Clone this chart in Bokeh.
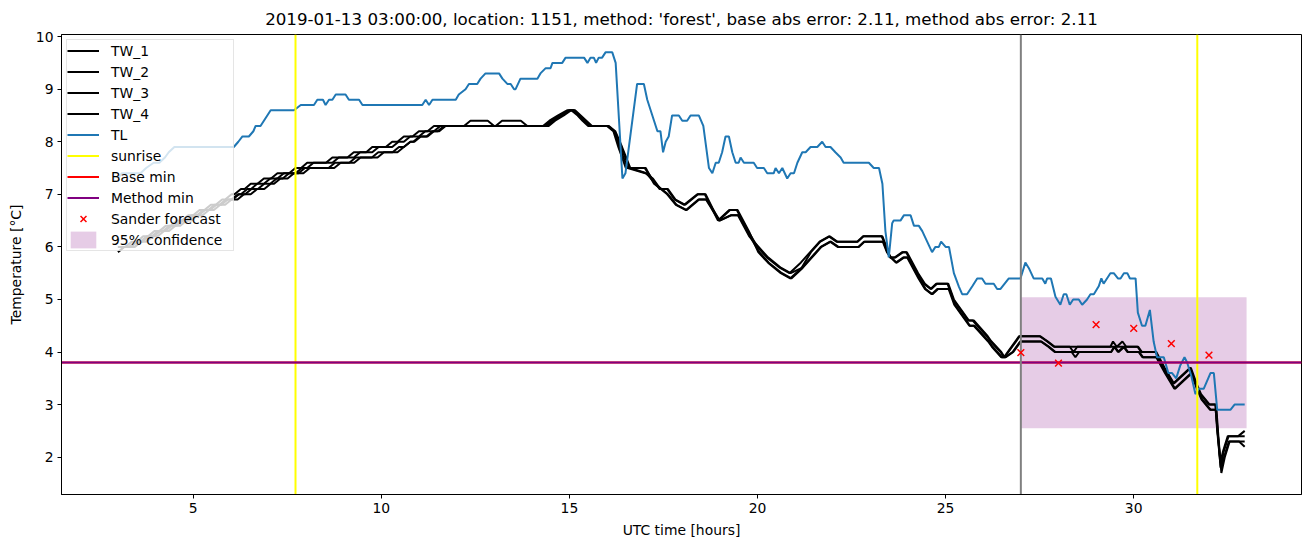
from bokeh.plotting import figure
from bokeh.models import Legend, LegendItem, Range1d, FixedTicker
from bokeh.embed import file_html
from bokeh.resources import INLINE

# ---------------- data ----------------
run_time = "2019-01-13 03:00:00"
location = 1151
method = "forest"
base_abs_error = 2.11
method_abs_error = 2.11

tw1_hours = [3.00, 3.20, 3.37, 3.50, 3.67, 3.80, 3.97, 4.10, 4.27, 4.40,
             4.57, 4.70, 4.87, 5.00, 5.17, 5.30, 5.47, 5.60, 5.77, 5.85,
             6.02, 6.10, 6.27, 6.37, 6.53, 6.71, 6.88, 7.07, 7.24, 7.55,
             7.72, 7.87, 8.03, 8.53, 8.70, 9.10, 9.27, 9.60, 9.76, 10.12,
             10.29, 10.43, 10.60, 10.83, 11.00, 11.23, 11.40, 12.20, 12.37, 12.83,
             13.00, 13.04, 13.21, 13.71, 13.88, 14.30, 14.47, 14.70, 14.95, 15.05,
             15.22, 15.35, 15.50, 16.00, 16.17, 16.30, 16.50, 17.00, 17.20, 17.40,
             17.60, 17.80, 18.05, 18.40, 18.60, 18.95, 19.25, 19.45, 19.75, 20.00,
             20.25, 20.60, 20.85, 21.15, 21.40, 21.65, 21.90, 22.10, 22.65, 22.80,
             23.30, 23.42, 23.52, 23.65, 23.85, 23.95, 24.25, 24.42, 24.60, 24.75,
             25.05, 25.20, 25.60, 25.72, 26.10, 26.20, 26.46, 26.55, 26.75, 26.95,
             27.50, 27.70, 27.88, 28.30, 28.40, 28.50, 29.38, 29.45, 29.55, 29.70,
             29.80, 30.10, 30.20, 30.58, 30.80, 31.05, 31.20, 31.35, 31.50, 31.65,
             31.77, 32.00, 32.17, 32.22, 32.30, 32.37, 32.50, 32.78, 32.95]
tw1_temps = [6.0, 6.0, 6.1, 6.1, 6.2, 6.2, 6.3, 6.3, 6.4, 6.4,
             6.5, 6.5, 6.6, 6.6, 6.7, 6.7, 6.8, 6.8, 6.9, 6.9,
             7.0, 7.0, 7.1, 7.1, 7.2, 7.2, 7.3, 7.3, 7.4, 7.4,
             7.5, 7.5, 7.6, 7.6, 7.7, 7.7, 7.8, 7.8, 7.9, 7.9,
             8.0, 8.0, 8.1, 8.1, 8.2, 8.2, 8.3, 8.3, 8.4, 8.4,
             8.3, 8.3, 8.4, 8.4, 8.3, 8.3, 8.4, 8.5, 8.6, 8.6,
             8.5, 8.4, 8.3, 8.3, 8.2, 7.9, 7.5, 7.5, 7.3, 7.1,
             7.1, 6.9, 6.8, 7.0, 7.0, 6.5, 6.7, 6.7, 6.3, 6.0,
             5.8, 5.6, 5.5, 5.7, 5.9, 6.1, 6.2, 6.1, 6.1, 6.2,
             6.2, 6.0, 5.8, 5.8, 5.9, 5.9, 5.5, 5.3, 5.2, 5.3,
             5.3, 5.0, 4.6, 4.6, 4.3, 4.2, 4.0, 3.9, 4.1, 4.3,
             4.3, 4.2, 4.1, 4.1, 4.0, 4.1, 4.1, 4.2, 4.1, 4.2,
             4.1, 4.1, 4.0, 4.0, 3.7, 3.4, 3.5, 3.6, 3.7, 3.4,
             3.2, 3.0, 3.0, 2.5, 1.9, 2.1, 2.4, 2.4, 2.5]

tw2_hours = [3.00, 3.35, 3.52, 3.65, 3.82, 3.95, 4.12, 4.25, 4.42, 4.55,
             4.72, 4.85, 5.02, 5.15, 5.32, 5.45, 5.62, 5.75, 5.92, 6.02,
             6.19, 6.27, 6.44, 6.54, 6.70, 6.88, 7.05, 7.24, 7.41, 7.72,
             7.89, 8.03, 8.20, 8.70, 8.87, 9.27, 9.44, 9.76, 9.93, 10.29,
             10.46, 10.60, 10.77, 11.00, 11.17, 11.40, 11.57, 14.35, 14.52, 14.75,
             15.00, 15.10, 15.25, 15.40, 15.55, 16.02, 16.19, 16.33, 16.55, 17.02,
             17.22, 17.42, 17.62, 17.82, 18.08, 18.42, 18.62, 18.97, 19.27, 19.47,
             19.77, 20.02, 20.28, 20.62, 20.87, 21.17, 21.42, 21.67, 21.92, 22.12,
             22.67, 22.82, 23.32, 23.43, 23.53, 23.67, 23.87, 23.97, 24.27, 24.45,
             24.62, 24.77, 25.07, 25.22, 25.62, 25.75, 26.12, 26.22, 26.48, 26.57,
             26.77, 26.97, 27.52, 27.72, 27.90, 28.32, 29.40, 30.12, 30.22, 30.60,
             30.82, 31.07, 31.22, 31.37, 31.52, 31.67, 31.79, 32.02, 32.18, 32.23,
             32.31, 32.39, 32.52, 32.80, 32.95]
tw2_temps = [6.0, 6.0, 6.1, 6.1, 6.2, 6.2, 6.3, 6.3, 6.4, 6.4,
             6.5, 6.5, 6.6, 6.6, 6.7, 6.7, 6.8, 6.8, 6.9, 6.9,
             7.0, 7.0, 7.1, 7.1, 7.2, 7.2, 7.3, 7.3, 7.4, 7.4,
             7.5, 7.5, 7.6, 7.6, 7.7, 7.7, 7.8, 7.8, 7.9, 7.9,
             8.0, 8.0, 8.1, 8.1, 8.2, 8.2, 8.3, 8.3, 8.4, 8.5,
             8.6, 8.6, 8.5, 8.4, 8.3, 8.3, 8.2, 7.9, 7.5, 7.4,
             7.3, 7.1, 7.1, 6.9, 6.8, 7.0, 7.0, 6.5, 6.7, 6.7,
             6.3, 5.9, 5.7, 5.5, 5.4, 5.6, 5.9, 6.1, 6.2, 6.1,
             6.1, 6.2, 6.2, 6.0, 5.8, 5.8, 5.9, 5.9, 5.5, 5.3,
             5.2, 5.3, 5.3, 5.0, 4.6, 4.6, 4.3, 4.2, 4.0, 3.9,
             4.1, 4.3, 4.3, 4.2, 4.1, 4.1, 4.1, 4.1, 4.0, 4.0,
             3.7, 3.4, 3.5, 3.6, 3.7, 3.4, 3.2, 3.0, 3.0, 2.5,
             1.8, 2.1, 2.4, 2.4, 2.4]

tw3_hours = [3.00, 3.30, 3.47, 3.60, 3.77, 3.90, 4.07, 4.20, 4.37, 4.50,
             4.67, 4.80, 4.97, 5.10, 5.27, 5.40, 5.57, 5.70, 5.87, 6.05,
             6.22, 6.38, 6.55, 6.72, 6.89, 7.05, 7.22, 7.38, 7.55, 7.80,
             7.97, 8.60, 8.77, 9.15, 9.32, 9.75, 9.92, 10.30, 10.47, 10.60,
             10.77, 10.85, 11.02, 11.20, 11.37, 11.50, 11.67, 14.40, 14.57, 14.80,
             15.02, 15.12, 15.27, 15.42, 15.57, 16.03, 16.20, 16.37, 16.60, 17.03,
             17.25, 17.43, 17.60, 17.83, 18.10, 18.43, 18.63, 18.98, 19.28, 19.48,
             19.78, 20.03, 20.28, 20.63, 20.88, 21.18, 21.43, 21.68, 21.93, 22.13,
             22.68, 22.83, 23.33, 23.44, 23.54, 23.68, 23.88, 23.98, 24.28, 24.45,
             24.63, 24.78, 25.08, 25.23, 25.63, 25.75, 26.13, 26.23, 26.48, 26.58,
             26.78, 26.98, 27.53, 27.73, 27.90, 29.40, 29.48, 29.58, 29.73, 29.83,
             30.13, 30.23, 30.60, 30.83, 31.08, 31.23, 31.38, 31.53, 31.68, 31.80,
             32.03, 32.18, 32.24, 32.32, 32.40, 32.53, 32.80, 32.95]
tw3_temps = [6.0, 6.0, 6.1, 6.1, 6.2, 6.2, 6.3, 6.3, 6.4, 6.4,
             6.5, 6.5, 6.6, 6.6, 6.7, 6.7, 6.8, 6.8, 6.9, 6.9,
             7.0, 7.0, 7.1, 7.1, 7.2, 7.2, 7.3, 7.3, 7.4, 7.4,
             7.5, 7.5, 7.6, 7.6, 7.7, 7.7, 7.8, 7.8, 7.9, 7.9,
             8.0, 8.0, 8.1, 8.1, 8.2, 8.2, 8.3, 8.3, 8.4, 8.5,
             8.6, 8.6, 8.5, 8.4, 8.3, 8.3, 8.2, 7.9, 7.5, 7.5,
             7.2, 7.1, 7.0, 6.8, 6.7, 6.9, 6.9, 6.5, 6.6, 6.6,
             6.2, 6.0, 5.8, 5.6, 5.5, 5.6, 5.8, 6.0, 6.1, 6.0,
             6.0, 6.1, 6.1, 5.9, 5.8, 5.7, 5.8, 5.8, 5.4, 5.2,
             5.1, 5.2, 5.2, 4.9, 4.5, 4.5, 4.2, 4.1, 3.9, 3.9,
             4.0, 4.2, 4.2, 4.1, 4.0, 4.0, 4.1, 4.0, 4.1, 4.0,
             4.0, 3.9, 3.9, 3.6, 3.3, 3.4, 3.5, 3.6, 3.3, 3.1,
             2.9, 2.9, 2.4, 1.8, 2.0, 2.3, 2.3, 2.3]

tw4_hours = [3.00, 3.17, 3.45, 3.62, 3.75, 3.92, 4.05, 4.22, 4.35, 4.52,
             4.65, 4.82, 4.95, 5.12, 5.25, 5.42, 5.55, 5.72, 5.85, 6.02,
             6.18, 6.35, 6.53, 6.70, 6.89, 7.06, 7.15, 7.32, 7.51, 7.68,
             7.93, 8.10, 8.75, 8.92, 9.28, 9.45, 9.90, 10.07, 10.43, 10.60,
             10.78, 10.88, 11.05, 11.23, 11.40, 11.54, 11.71, 14.45, 14.62, 14.85,
             15.05, 15.15, 15.30, 15.45, 15.60, 16.05, 16.22, 16.40, 16.62, 17.05,
             17.28, 17.45, 17.62, 17.85, 18.12, 18.45, 18.65, 19.00, 19.30, 19.50,
             19.80, 20.05, 20.30, 20.65, 20.90, 21.20, 21.45, 21.70, 21.95, 22.15,
             22.70, 22.85, 23.35, 23.45, 23.55, 23.70, 23.90, 24.00, 24.30, 24.47,
             24.65, 24.80, 25.10, 25.25, 25.65, 25.77, 26.15, 26.25, 26.50, 26.60,
             26.80, 27.00, 27.55, 27.75, 27.92, 28.35, 28.45, 28.55, 29.40, 29.50,
             29.60, 29.75, 29.85, 30.15, 30.25, 30.62, 30.85, 31.10, 31.25, 31.40,
             31.55, 31.70, 31.82, 32.05, 32.20, 32.25, 32.33, 32.42, 32.55, 32.80,
             32.95]
tw4_temps = [5.9, 6.0, 6.0, 6.1, 6.1, 6.2, 6.2, 6.3, 6.3, 6.4,
             6.4, 6.5, 6.5, 6.6, 6.6, 6.7, 6.7, 6.8, 6.8, 6.9,
             6.9, 7.0, 7.0, 7.1, 7.1, 7.2, 7.2, 7.3, 7.3, 7.4,
             7.4, 7.5, 7.5, 7.6, 7.6, 7.7, 7.7, 7.8, 7.8, 7.9,
             8.0, 8.0, 8.1, 8.1, 8.2, 8.2, 8.3, 8.3, 8.4, 8.5,
             8.6, 8.6, 8.5, 8.4, 8.3, 8.3, 8.2, 7.9, 7.5, 7.4,
             7.2, 7.1, 7.0, 6.8, 6.7, 6.9, 6.9, 6.5, 6.6, 6.6,
             6.2, 5.9, 5.7, 5.5, 5.4, 5.6, 5.8, 6.0, 6.1, 6.0,
             6.0, 6.1, 6.1, 5.9, 5.8, 5.7, 5.8, 5.8, 5.4, 5.2,
             5.1, 5.2, 5.2, 4.9, 4.5, 4.5, 4.2, 4.1, 3.9, 3.9,
             4.0, 4.2, 4.2, 4.1, 4.0, 4.0, 3.9, 4.0, 4.0, 4.1,
             4.0, 4.1, 4.0, 4.0, 3.9, 3.9, 3.6, 3.3, 3.4, 3.5,
             3.6, 3.3, 3.1, 2.9, 2.9, 2.4, 1.7, 2.0, 2.3, 2.3,
             2.2]

tl_hours = [3.00, 3.10, 3.60, 3.75, 3.95, 4.10, 4.25, 4.35, 4.50, 6.08,
            6.20, 6.31, 6.48, 6.60, 6.66, 6.79, 6.88, 6.97, 7.06, 7.68,
            7.86, 8.21, 8.30, 8.45, 8.52, 8.61, 8.70, 8.79, 9.05, 9.14,
            9.41, 9.50, 11.09, 11.18, 11.27, 11.36, 11.98, 12.06, 12.24, 12.33,
            12.55, 12.64, 12.77, 13.13, 13.22, 13.35, 13.44, 13.53, 13.57, 13.70,
            14.15, 14.23, 14.37, 14.50, 14.55, 14.81, 14.90, 15.39, 15.48, 15.56,
            15.65, 15.71, 15.78, 15.87, 15.96, 16.14, 16.23, 16.41, 16.49, 16.80,
            16.98, 17.07, 17.25, 17.34, 17.42, 17.49, 17.56, 17.64, 17.73, 17.91,
            18.00, 18.13, 18.22, 18.44, 18.56, 18.71, 18.80, 18.89, 18.97, 19.06,
            19.15, 19.24, 19.33, 19.42, 19.50, 19.55, 19.64, 19.90, 19.99, 20.17,
            20.26, 20.43, 20.48, 20.57, 20.66, 20.79, 20.88, 20.97, 21.06, 21.19,
            21.28, 21.41, 21.59, 21.72, 21.81, 21.94, 22.07, 22.21, 22.29, 22.96,
            23.09, 23.23, 23.32, 23.40, 23.49, 23.58, 23.62, 23.80, 23.89, 24.07,
            24.16, 24.29, 24.38, 24.51, 24.64, 24.73, 24.82, 24.88, 25.00, 25.09,
            25.22, 25.35, 25.44, 25.57, 25.71, 25.84, 25.97, 26.06, 26.28, 26.37,
            26.46, 26.57, 26.68, 26.99, 27.12, 27.21, 27.34, 27.57, 27.65, 27.70,
            27.80, 27.92, 28.05, 28.14, 28.21, 28.30, 28.39, 28.54, 28.63, 28.76,
            28.85, 28.94, 29.07, 29.14, 29.20, 29.29, 29.38, 29.47, 29.58, 29.65,
            29.74, 29.83, 29.90, 30.05, 30.11, 30.22, 30.31, 30.43, 30.53, 30.62,
            30.80, 30.92, 31.02, 31.13, 31.24, 31.35, 31.42, 31.53, 31.64, 31.73,
            31.86, 32.04, 32.13, 32.22, 32.57, 32.68, 32.95]
tl_temps = [7.3, 7.4, 7.4, 7.5, 7.6, 7.6, 7.7, 7.8, 7.9, 7.9,
            8.0, 8.1, 8.1, 8.2, 8.3, 8.3, 8.4, 8.5, 8.6, 8.6,
            8.7, 8.7, 8.8, 8.8, 8.7, 8.8, 8.8, 8.9, 8.9, 8.8,
            8.8, 8.7, 8.7, 8.8, 8.7, 8.8, 8.8, 8.9, 9.0, 9.1,
            9.1, 9.2, 9.3, 9.3, 9.2, 9.1, 9.1, 9.0, 9.0, 9.2,
            9.2, 9.3, 9.4, 9.4, 9.5, 9.5, 9.6, 9.6, 9.5, 9.6,
            9.6, 9.5, 9.6, 9.6, 9.7, 9.7, 9.5, 7.3, 7.4, 9.1,
            9.1, 8.8, 8.4, 8.2, 8.2, 7.8, 8.0, 8.1, 8.5, 8.5,
            8.4, 8.4, 8.5, 8.5, 8.3, 7.5, 7.4, 7.6, 7.6, 7.8,
            8.1, 8.1, 7.8, 7.6, 7.6, 7.7, 7.6, 7.6, 7.5, 7.5,
            7.4, 7.4, 7.5, 7.4, 7.5, 7.3, 7.4, 7.4, 7.6, 7.8,
            7.8, 7.9, 7.9, 8.0, 7.9, 7.9, 7.8, 7.7, 7.6, 7.6,
            7.5, 7.5, 7.2, 6.3, 5.8, 6.45, 6.5, 6.5, 6.6, 6.6,
            6.4, 6.4, 6.3, 6.1, 5.9, 6.0, 6.0, 6.1, 6.0, 6.0,
            5.5, 5.25, 5.1, 5.1, 5.25, 5.4, 5.4, 5.3, 5.3, 5.2,
            5.2, 5.3, 5.4, 5.4, 5.7, 5.6, 5.4, 5.4, 5.3, 5.4,
            5.4, 5.05, 4.9, 5.1, 5.1, 4.9, 5.0, 5.0, 4.9, 5.0,
            5.1, 5.1, 5.25, 5.4, 5.3, 5.4, 5.5, 5.5, 5.4, 5.4,
            5.5, 5.5, 5.4, 5.4, 4.75, 4.5, 4.5, 4.8, 4.2, 3.9,
            3.9, 3.6, 3.6, 3.5, 3.75, 3.9, 3.8, 3.55, 3.2, 3.3,
            3.3, 3.6, 3.6, 2.9, 2.9, 3.0, 3.0]

sunrise_hours = [7.72, 31.69]
forecast_start_hour = [27.0]
base_min = [3.80]
method_min = [3.80]
sander_hours = [27, 28, 29, 30, 31, 32]
sander_temps = [3.99, 3.79, 4.52, 4.45, 4.16, 3.94]
conf_hours = [27.0, 33.0]
conf_bounds = [2.55, 5.04]
x_ticks = [5, 10, 15, 20, 25, 30]
y_ticks = [2, 3, 4, 5, 6, 7, 8, 9, 10]

tw_series = [("TW_1", tw1_hours, tw1_temps), ("TW_2", tw2_hours, tw2_temps),
             ("TW_3", tw3_hours, tw3_temps), ("TW_4", tw4_hours, tw4_temps)]
for name, h, t in tw_series:
    assert len(h) == len(t), (name, len(h), len(t))
assert len(tl_hours) == len(tl_temps)

# ---------------- figure ----------------
FONT = "DejaVu Sans"
X_START, X_END = 1.5, 34.46
Y_START, Y_END = 1.29, 10.04
title_text = (f"{run_time}, location: {location}, method: '{method}', "
              f"base abs error: {base_abs_error:.2f}, method abs error: {method_abs_error:.2f}")

p = figure(width=1310, height=547, output_backend="svg", toolbar_location=None,
           x_range=Range1d(X_START, X_END), y_range=Range1d(Y_START, Y_END),
           min_border_left=61, min_border_right=9, min_border_top=34, min_border_bottom=53,
           title=title_text)
p.background_fill_color = "white"
p.border_fill_color = "white"
p.outline_line_color = "black"
p.outline_line_width = 1
p.outline_line_alpha = 1.0
p.xgrid.visible = False
p.ygrid.visible = False

p.title.align = "center"
p.title.text_font = FONT
p.title.text_font_size = "16.7px"
p.title.text_font_style = "normal"
p.title.text_color = "black"
p.title.standoff = 12

p.xaxis.ticker = FixedTicker(ticks=x_ticks)
p.yaxis.ticker = FixedTicker(ticks=y_ticks)
p.xaxis.axis_label = "UTC time [hours]"
p.yaxis.axis_label = "Temperature [°C]"
for ax in (p.xaxis[0], p.yaxis[0]):
    ax.major_label_text_font = FONT
    ax.major_label_text_font_size = "13.9px"
    ax.major_label_text_color = "black"
    ax.axis_label_text_font = FONT
    ax.axis_label_text_font_size = "13.9px"
    ax.axis_label_text_font_style = "normal"
    ax.axis_label_text_color = "black"
    ax.major_tick_in = 0
    ax.major_tick_out = 4
    ax.minor_tick_in = 0
    ax.minor_tick_out = 0
    ax.major_tick_line_color = "black"
    ax.axis_line_color = "black"
    ax.major_label_standoff = 4
p.xaxis.axis_label_standoff = 6
p.yaxis.axis_label_standoff = 9

# confidence region (underneath)
r_conf = p.quad(left=[conf_hours[0]], right=[conf_hours[1]],
                bottom=[conf_bounds[0]], top=[conf_bounds[1]],
                fill_color="purple", fill_alpha=0.2, line_color=None, level="underlay")

# water temperature and air temperature
tw_renderers = []
for name, h, t in tw_series:
    tw_renderers.append(p.line(h, t, line_color="black", line_width=2))
r_tl = p.line(tl_hours, tl_temps, line_color="#1f77b4", line_width=2)

# reference lines spanning the whole frame
r_sun = p.segment(x0=sunrise_hours, y0=[Y_START] * len(sunrise_hours),
                  x1=sunrise_hours, y1=[Y_END] * len(sunrise_hours),
                  line_color="yellow", line_width=2)
r_base = p.segment(x0=[X_START] * len(base_min), y0=base_min,
                   x1=[X_END] * len(base_min), y1=base_min,
                   line_color="red", line_width=2)
r_meth = p.segment(x0=[X_START] * len(method_min), y0=method_min,
                   x1=[X_END] * len(method_min), y1=method_min,
                   line_color="purple", line_width=2)
p.segment(x0=forecast_start_hour, y0=[Y_START], x1=forecast_start_hour, y1=[Y_END],
          line_color="grey", line_width=2)

r_sander = p.scatter(sander_hours, sander_temps, marker="x", size=9.5,
                     line_color="red", line_width=1.5)

items = [LegendItem(label=name, renderers=[r]) for (name, _, _), r in zip(tw_series, tw_renderers)]
items += [LegendItem(label="TL", renderers=[r_tl]),
          LegendItem(label="sunrise", renderers=[r_sun]),
          LegendItem(label="Base min", renderers=[r_base]),
          LegendItem(label="Method min", renderers=[r_meth]),
          LegendItem(label="Sander forecast", renderers=[r_sander]),
          LegendItem(label="95% confidence", renderers=[r_conf])]
legend = Legend(items=items, location="top_left", margin=5, padding=0,
                spacing=0, glyph_width=32, glyph_height=21, label_height=21,
                label_width=122, label_standoff=12, label_text_font=FONT,
                label_text_font_size="13.9px", label_text_color="black",
                border_line_color="#cccccc", border_line_width=1,
                background_fill_color="white", background_fill_alpha=0.8)
p.add_layout(legend)

open("out.html", "w").write(file_html(p, INLINE))
